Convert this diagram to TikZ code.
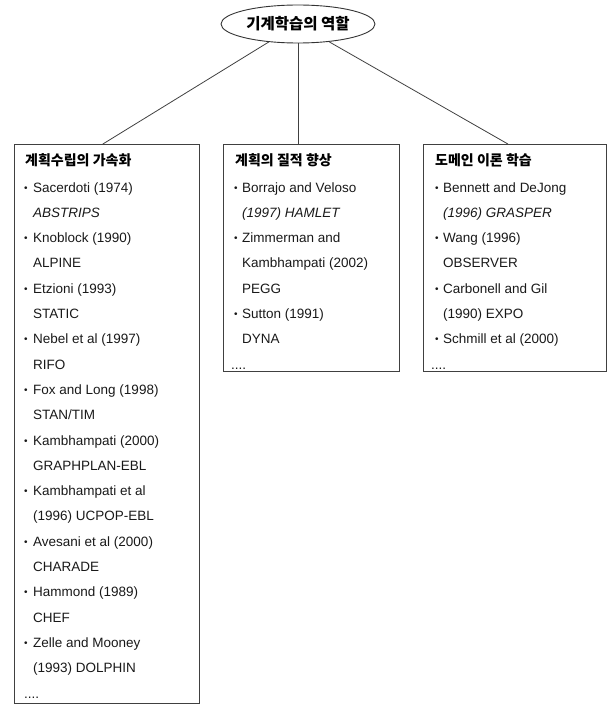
\documentclass[tikz,border=0pt]{standalone}
\usepackage{fontspec}
\setmainfont{Liberation Sans}
\newfontfamily\kr{Noto Sans CJK KR}
\usetikzlibrary{shapes.geometric}
\tikzset{
  frame/.style={draw=black!75, line width=0.8pt, inner sep=0pt, anchor=north west},
  conn/.style={draw=black!75, line width=0.8pt},
  txt/.style={anchor=base west, inner sep=0pt, font=\fontsize{13.5}{15}\selectfont, text=black!90},
  ttl/.style={anchor=base west, inner sep=0pt, font=\kr\bfseries\fontsize{14}{16}\selectfont},
  bul/.style={anchor=base west, inner sep=0pt, font=\fontsize{10}{12}\selectfont, text=black!90},
  rootnode/.style={draw=black!80, line width=0.9pt, ellipse, minimum width=154pt, minimum height=38pt, inner sep=0pt, font=\kr\bfseries\fontsize{15.5}{17}\selectfont},
}
\begin{document}
\begin{tikzpicture}[x=1pt,y=-1pt]
\useasboundingbox (0,0) rectangle (611,706);
% root
\node[rootnode] (root) at (298,24) {기계학습의 역할};
% boxes
\node[frame, minimum width=185pt, minimum height=559pt] (b1) at (14,144) {};
\node[frame, minimum width=176pt, minimum height=227pt] (b2) at (223,144) {};
\node[frame, minimum width=183pt, minimum height=227pt] (b3) at (423,144) {};
% connectors
\draw[conn] (root) -- ([xshift=-4pt]b1.north);
\draw[conn] (root) -- (root |- b2.north);
\draw[conn] (root) -- ([xshift=-7pt]b3.north);
% titles
\node[ttl] (t1) at (25,165) {계획수립의 가속화};
\node[ttl] (t2) at (235,165) {계획의 질적 향상};
\node[ttl] (t3) at (435,165) {도메인 이론 학습};
% left list
\foreach \i/\b/\t in {
  0/1/{Sacerdoti (1974)},
  1/0/{\textit{ABSTRIPS}},
  2/1/{Knoblock (1990)},
  3/0/{ALPINE},
  4/1/{Etzioni (1993)},
  5/0/{STATIC},
  6/1/{Nebel et al (1997)},
  7/0/{RIFO},
  8/1/{Fox and Long (1998)},
  9/0/{STAN/TIM},
  10/1/{Kambhampati (2000)},
  11/0/{GRAPHPLAN-EBL},
  12/1/{Kambhampati et al},
  13/0/{(1996) UCPOP-EBL},
  14/1/{Avesani et al (2000)},
  15/0/{CHARADE},
  16/1/{Hammond (1989)},
  17/0/{CHEF},
  18/1/{Zelle and Mooney},
  19/0/{(1993) DOLPHIN}} {
  \node[txt] (L\i) at (33,{192+25.3*\i}) {\t};
  \ifnum\b=1 \node[bul] (LB\i) at (24,{191+25.3*\i}) {•};\fi
}
\node[txt] (Ld) at (24,{192+25.3*20}) {....};
% middle list
\foreach \i/\b/\t in {
  0/1/{Borrajo and Veloso},
  1/0/{\textit{(1997) HAMLET}},
  2/1/{Zimmerman and},
  3/0/{Kambhampati (2002)},
  4/0/{PEGG},
  5/1/{Sutton (1991)},
  6/0/{DYNA}} {
  \node[txt] (M\i) at (242,{192+25.3*\i}) {\t};
  \ifnum\b=1 \node[bul] (MB\i) at (234,{191+25.3*\i}) {•};\fi
}
\node[txt] (Md) at (231,{192+25.3*7}) {....};
% right list
\foreach \i/\b/\t in {
  0/1/{Bennett and DeJong},
  1/0/{\textit{(1996) GRASPER}},
  2/1/{Wang (1996)},
  3/0/{OBSERVER},
  4/1/{Carbonell and Gil},
  5/0/{(1990) EXPO},
  6/1/{Schmill et al (2000)}} {
  \node[txt] (R\i) at (443,{192+25.3*\i}) {\t};
  \ifnum\b=1 \node[bul] (RB\i) at (435,{191+25.3*\i}) {•};\fi
}
\node[txt] (Rd) at (431,{192+25.3*7}) {....};
\end{tikzpicture}
\end{document}
